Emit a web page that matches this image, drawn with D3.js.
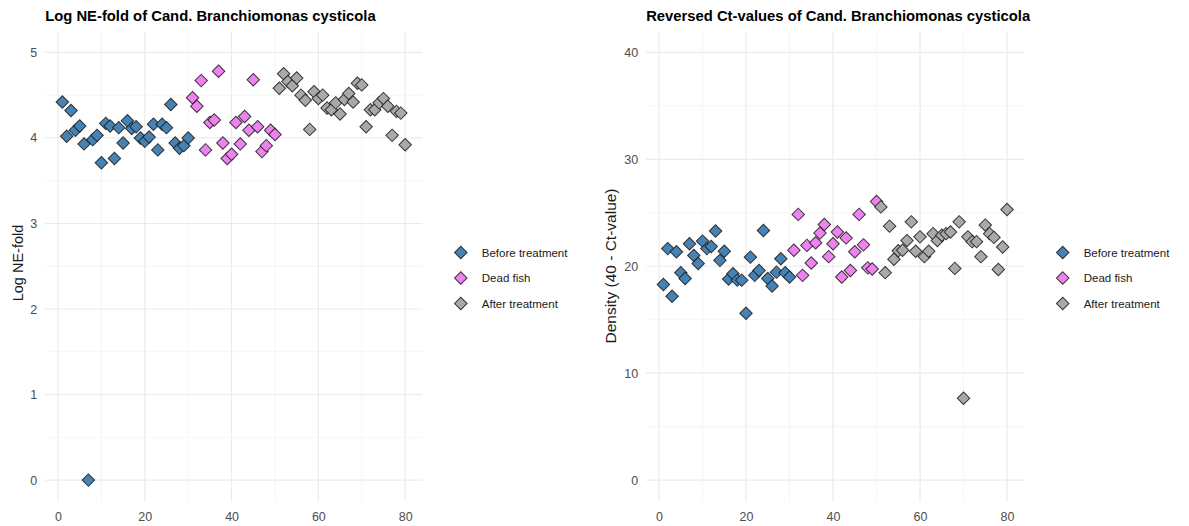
<!DOCTYPE html>
<html>
<head>
<meta charset="utf-8">
<script src="https://cdn.jsdelivr.net/npm/d3@7"></script>
<style>
  html, body { margin: 0; padding: 0; background: #ffffff; }
  svg { display: block; font-family: "Liberation Sans", Arial, Helvetica, sans-serif; }
</style>
</head>
<body>
<svg id="chart" width="1189" height="526"></svg>
<script>
// Sample numbers per group
const beforeSamples = [1,2,3,4,5,6,7,8,9,10,11,12,13,14,15,16,17,18,19,20,21,22,23,24,25,26,27,28,29,30];
const deadSamples   = [31,32,33,34,35,36,37,38,39,40,41,42,43,44,45,46,47,48,49,50];
const afterSamples  = [51,52,53,54,55,56,57,58,59,60,61,62,63,64,65,66,67,68,69,70,71,72,73,74,75,76,77,78,79,80];

// Log NE-fold values
const beforeLogNE = [4.42,4.02,4.32,4.09,4.14,3.93,0.00,3.98,4.03,3.71,4.17,4.14,3.76,4.12,3.94,4.20,4.11,4.13,4.00,3.96,4.01,4.16,3.86,4.16,4.12,4.39,3.94,3.88,3.91,4.00];
const deadLogNE   = [4.47,4.37,4.67,3.86,4.18,4.21,4.78,3.94,3.76,3.81,4.18,3.93,4.25,4.09,4.68,4.13,3.84,3.91,4.09,4.04];
const afterLogNE  = [4.58,4.75,4.66,4.61,4.70,4.50,4.44,4.10,4.54,4.46,4.50,4.35,4.33,4.41,4.28,4.45,4.52,4.42,4.64,4.62,4.13,4.33,4.33,4.41,4.46,4.37,4.03,4.31,4.29,3.92];

// Reversed Ct-values (40 - Ct)
const beforeRevCt = [18.3,21.65,17.2,21.35,19.4,18.85,22.1,21.0,20.25,22.35,21.65,21.85,23.3,20.55,21.4,18.8,19.3,18.7,18.7,15.6,20.85,19.15,19.6,23.35,18.85,18.15,19.45,20.7,19.4,19.0];
const deadRevCt   = [21.5,24.85,19.15,21.95,20.3,22.2,23.1,23.9,20.9,22.1,23.2,19.0,22.65,19.6,21.35,24.85,22.0,19.85,19.75,26.05];
const afterRevCt  = [25.55,19.4,23.75,20.65,21.45,21.5,22.4,24.15,21.4,22.75,20.9,21.4,23.05,22.4,22.9,23.05,23.2,19.8,24.15,7.65,22.75,22.3,22.3,20.9,23.85,23.05,22.7,19.7,21.8,25.3];

const groupNames  = ["Before treatment", "Dead fish", "After treatment"];
const groupFills  = ["#4682B4", "#EE82EE", "#A9A9A9"];

const xTicks = [0, 20, 40, 60, 80];
const xMinor = [10, 30, 50, 70];
const logTicks = [0, 1, 2, 3, 4, 5];
const logMinor = [0.5, 1.5, 2.5, 3.5, 4.5];
const ctTicks = [0, 10, 20, 30, 40];
const ctMinor = [5, 15, 25, 35];

function buildRows(samples, values, group) {
  return samples.map((s, i) => ({ sample: s, value: values[i], group }));
}

const logRows = [
  ...buildRows(beforeSamples, beforeLogNE, groupNames[0]),
  ...buildRows(deadSamples, deadLogNE, groupNames[1]),
  ...buildRows(afterSamples, afterLogNE, groupNames[2])
];
const ctRows = [
  ...buildRows(beforeSamples, beforeRevCt, groupNames[0]),
  ...buildRows(deadSamples, deadRevCt, groupNames[1]),
  ...buildRows(afterSamples, afterRevCt, groupNames[2])
];

const colour = d3.scaleOrdinal().domain(groupNames).range(groupFills);
const diamond = d3.symbol().type(d3.symbolSquare).size(78);

const svg = d3.select("#chart");
svg.append("rect").attr("width", 1189).attr("height", 526).attr("fill", "#ffffff");

const plotTop = 31, plotBottom = 501.5;

function drawPanel(opts) {
  const x = d3.scaleLinear().domain([-2.95, 83.95]).range([opts.left, opts.right]);
  const y = d3.scaleLinear().domain(opts.yDomain).range([plotBottom, plotTop]);
  const g = svg.append("g");

  // grid: minor first, then major
  const grid = g.append("g");
  grid.selectAll(".vminor").data(xMinor).join("line")
    .attr("x1", d => x(d)).attr("x2", d => x(d))
    .attr("y1", plotTop).attr("y2", plotBottom)
    .attr("stroke", "#f3f3f3").attr("stroke-width", 0.8);
  grid.selectAll(".hminor").data(opts.yMinor).join("line")
    .attr("x1", opts.left).attr("x2", opts.right)
    .attr("y1", d => y(d)).attr("y2", d => y(d))
    .attr("stroke", "#f3f3f3").attr("stroke-width", 0.8);
  grid.selectAll(".vmajor").data(xTicks).join("line")
    .attr("x1", d => x(d)).attr("x2", d => x(d))
    .attr("y1", plotTop).attr("y2", plotBottom)
    .attr("stroke", "#ebebeb").attr("stroke-width", 1.2);
  grid.selectAll(".hmajor").data(opts.yTicks).join("line")
    .attr("x1", opts.left).attr("x2", opts.right)
    .attr("y1", d => y(d)).attr("y2", d => y(d))
    .attr("stroke", "#ebebeb").attr("stroke-width", 1.2);

  // axes (labels only)
  const xAxis = g.append("g").attr("transform", `translate(0,${plotBottom + 4})`)
    .call(d3.axisBottom(x).tickValues(xTicks).tickFormat(d3.format("d")).tickSize(0).tickPadding(6.5));
  const yAxis = g.append("g").attr("transform", `translate(${opts.left - 4},0)`)
    .call(d3.axisLeft(y).tickValues(opts.yTicks).tickFormat(d3.format("d")).tickSize(0).tickPadding(4));
  [xAxis, yAxis].forEach(a => {
    a.select(".domain").remove();
    a.selectAll("text").attr("fill", "#4d4d4d").attr("font-size", "12.5px")
      .attr("font-family", "Liberation Sans, Arial, sans-serif");
  });

  // title
  g.append("text").attr("x", opts.left).attr("y", 21)
    .attr("font-size", "14.8px").attr("font-weight", "bold").attr("fill", "#000")
    .text(opts.title);

  // y-axis title
  g.append("text")
    .attr("transform", `translate(${opts.yTitleX},${opts.yTitleY}) rotate(-90)`)
    .attr("text-anchor", "middle").attr("font-size", opts.yTitleSize).attr("fill", "#1a1a1a")
    .text(opts.yTitle);

  // points
  g.append("g").selectAll("path").data(opts.rows).join("path")
    .attr("d", diamond)
    .attr("transform", d => `translate(${x(d.sample)},${y(d.value)}) rotate(45)`)
    .attr("fill", d => colour(d.group))
    .attr("stroke", "#1a1a1a").attr("stroke-opacity", 0.85).attr("stroke-width", 1);

  // legend
  const legend = g.append("g").attr("transform", `translate(${opts.right + 38.5},0)`);
  const items = legend.selectAll("g").data(groupNames).join("g")
    .attr("transform", (d, i) => `translate(0,${252.5 + i * 25.5})`);
  items.append("path").attr("d", diamond).attr("transform", "rotate(45)")
    .attr("fill", d => colour(d)).attr("stroke", "#1a1a1a").attr("stroke-opacity", 0.85).attr("stroke-width", 1);
  items.append("text").attr("x", 21).attr("dy", "0.35em")
    .attr("font-size", "11.5px").attr("fill", "#1a1a1a").text(d => d);
}

drawPanel({
  left: 45.2, right: 422.3,
  yDomain: [-0.25, 5.25], yTicks: logTicks, yMinor: logMinor,
  title: "Log NE-fold of Cand. Branchiomonas cysticola",
  yTitle: "Log NE-fold", yTitleX: 22.5, yTitleY: 263, yTitleSize: "14.5px",
  rows: logRows
});

drawPanel({
  left: 646.2, right: 1024.2,
  yDomain: [-2, 42], yTicks: ctTicks, yMinor: ctMinor,
  title: "Reversed Ct-values of Cand. Branchiomonas cysticola",
  yTitle: "Density (40 - Ct-value)", yTitleX: 616, yTitleY: 266, yTitleSize: "15.5px",
  rows: ctRows
});
</script>
</body>
</html>
